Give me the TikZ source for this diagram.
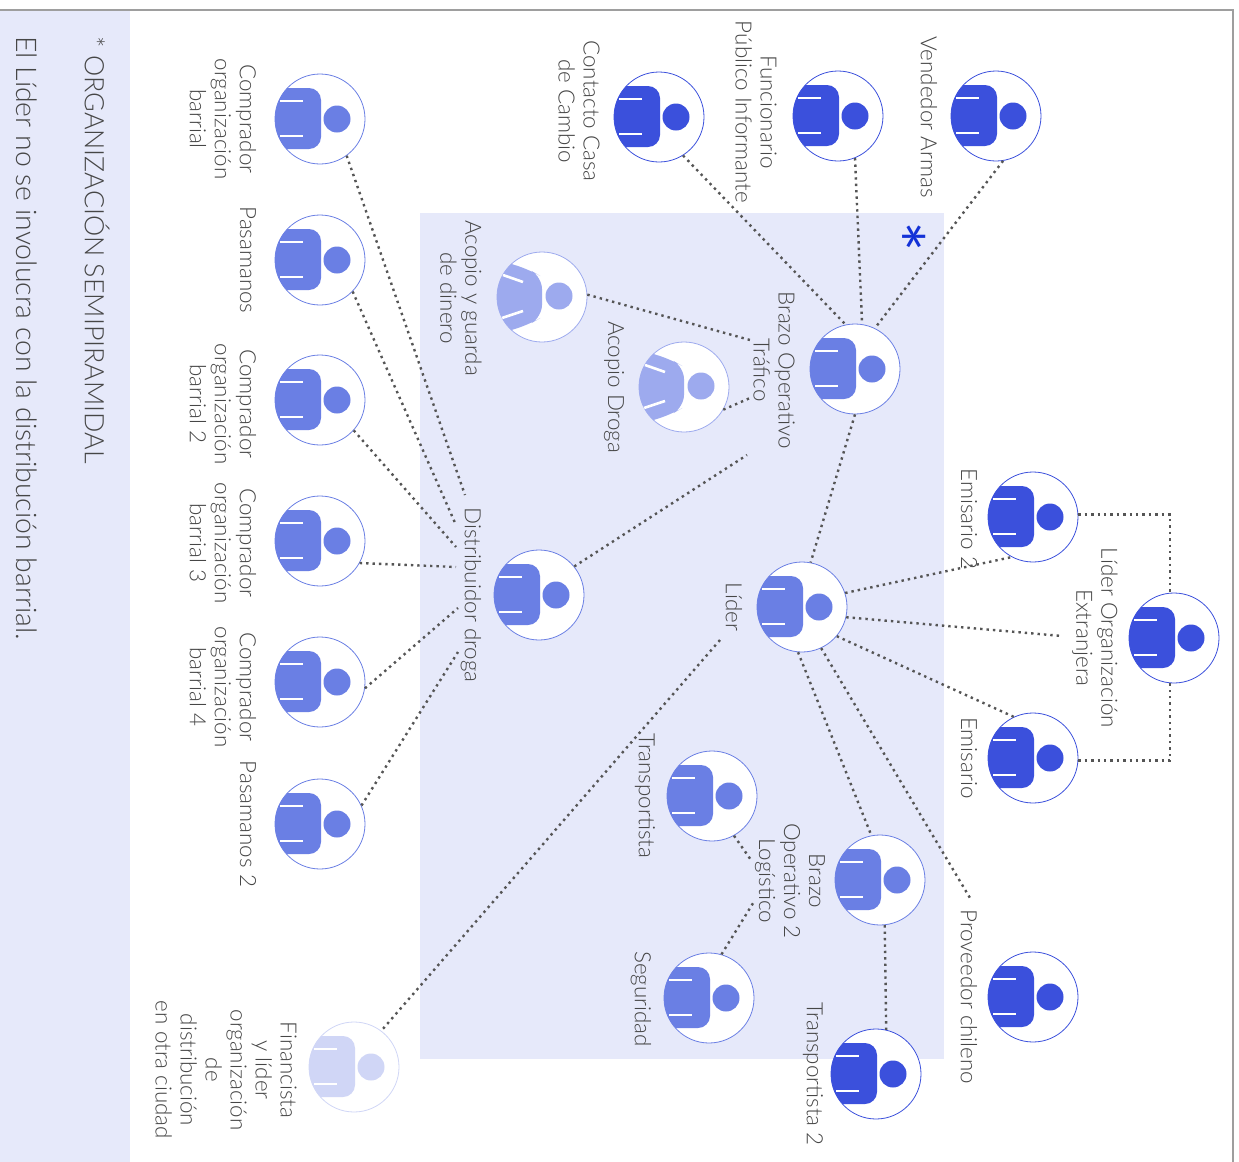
\documentclass[tikz,border=0pt]{standalone}
\usepackage{fontspec}
\setmainfont{Lato}[UprightFont=* Light]
\newfontfamily\markfont{Lato}

\definecolor{PersonDark}{RGB}{59,80,220}
\definecolor{PersonMid}{RGB}{106,127,228}
\definecolor{PersonLight}{RGB}{157,170,238}
\definecolor{PersonPale}{RGB}{208,214,246}
\definecolor{PanelColor}{RGB}{230,233,250}
\definecolor{TextColor}{RGB}{70,70,70}
\definecolor{DotColor}{RGB}{85,85,85}
\definecolor{MarkColor}{RGB}{20,50,215}

\tikzset{
	personcircle/.style={circle, draw, fill=white, line width=0.4pt, minimum size=45pt, inner sep=0pt},
	personlabel/.style={xshift=0.5pt, rotate=-90, align=center, inner sep=0pt, text=TextColor, font=\fontsize{11.2}{12.5}\selectfont},
	notelabel/.style={rotate=-90, anchor=west, inner sep=0pt, text=TextColor},
	dotline/.style={draw=DotColor, line width=1.2pt, dash pattern=on 1.2pt off 2pt}
}

% name, position, colour
\newcommand{\PersonNode}[3]{
	\node [personcircle, draw=#3] (#1) at (#2) {};
	\begin{scope}[shift={(#2)}]
		\clip (0,0) circle (45);
		\fill [#3, rounded corners=6pt] (-70,-31) rectangle (1,30);
		\fill [#3] (17,0) circle (13.5);
		\draw [white, line width=1.3pt] (-40,-18) -- (-17,-18) (-40,17) -- (-17,17);
	\end{scope}
}

% same, with the sloping shoulders
\newcommand{\PersonTilt}[3]{
	\node [personcircle, draw=#3] (#1) at (#2) {};
	\begin{scope}[shift={(#2)}]
		\clip (0,0) circle (45);
		\fill [#3, rounded corners=6pt] (-70,-46) -- (-12,-27) -- (0,-20) -- (0,20) -- (-12,27) -- (-70,46) -- cycle;
		\fill [#3] (17,-1) circle (13.5);
		\draw [white, line width=1.3pt] (-39,-22) -- (-19,-15) (-40,21) -- (-19,14);
	\end{scope}
}

\begin{document}
\begin{tikzpicture}[x=0.5pt, y=-0.5pt]

	\useasboundingbox (0,0) rectangle (1239,1162);

	% Panels

	\fill [PanelColor] (0,10) rectangle (130,1162);
	\fill [PanelColor] (420,213) rectangle (944,1059);
	\draw [color=black!38, line width=1pt] (0,9.5) -- (1233,9.5) -- (1233,1162);

	% People

	\PersonNode{vendedor}{996,116}{PersonDark}
	\PersonNode{funcionario}{838,116}{PersonDark}
	\PersonNode{contacto}{659,117}{PersonDark}
	\PersonNode{brazotrafico}{855,369}{PersonMid}
	\PersonTilt{acopioguarda}{542,297}{PersonLight}
	\PersonTilt{acopiodroga}{684,387}{PersonLight}
	\PersonNode{emisariodos}{1033,517}{PersonDark}
	\PersonNode{liderorg}{1174,638}{PersonDark}
	\PersonNode{emisario}{1033,758}{PersonDark}
	\PersonNode{lider}{802,607}{PersonMid}
	\PersonNode{distribuidor}{539,595}{PersonMid}
	\PersonNode{transportista}{712,796}{PersonMid}
	\PersonNode{brazologistico}{880,880}{PersonMid}
	\PersonNode{seguridad}{709,998}{PersonMid}
	\PersonNode{proveedor}{1033,997}{PersonDark}
	\PersonNode{transportistados}{876,1074}{PersonDark}
	\PersonNode{financista}{354,1067}{PersonPale}
	\PersonNode{compradoruno}{320,119}{PersonMid}
	\PersonNode{pasamanos}{320,260}{PersonMid}
	\PersonNode{compradordos}{320,400}{PersonMid}
	\PersonNode{compradortres}{320,541}{PersonMid}
	\PersonNode{compradorcuatro}{320,682}{PersonMid}
	\PersonNode{pasamanosdos}{320,824}{PersonMid}

	% Labels

	\node [personlabel] (vendedorlabel) at (928,117) {Vendedor Armas};
	\node [personlabel] (funcionariolabel) at (755,112) {Funcionario\\Público Informante};
	\node [personlabel] (contactolabel) at (578,111) {Contacto Casa\\de Cambio};
	\node [personlabel] (brazotraficolabel) at (773,370) {Brazo Operativo\\Tráfico};
	\node [personlabel] (acopioguardalabel) at (460,298) {Acopio y guarda\\de dinero};
	\node [personlabel] (acopiodrogalabel) at (613,387) {Acopio Droga};
	\node [personlabel] (emisariodoslabel) at (968,519) {Emisario 2};
	\node [personlabel] (liderorglabel) at (1094,638) {Líder Organización\\Extranjera};
	\node [personlabel] (emisariolabel) at (968,758) {Emisario};
	\node [personlabel] (liderlabel) at (733,607) {Líder};
	\node [personlabel] (distribuidorlabel) at (470,595) {Distribuidor droga};
	\node [personlabel] (transportistalabel) at (644,796) {Transportista};
	\node [personlabel] (brazologisticolabel) at (789,881) {Brazo\\Operativo 2\\Logístico};
	\node [personlabel] (seguridadlabel) at (640,999) {Seguridad};
	\node [personlabel] (proveedorlabel) at (968,997) {Proveedor chileno};
	\node [personlabel] (transportistadoslabel) at (812,1074) {Transportista 2};
	\node [personlabel] (financistalabel) at (225,1070) {Financista\\y líder\\organización\\de\\distribución\\en otra ciudad};
	\node [personlabel] (compradorunolabel) at (222,119) {Comprador\\organización\\barrial};
	\node [personlabel] (pasamanoslabel) at (247,260) {Pasamanos};
	\node [personlabel] (compradordoslabel) at (222,404) {Comprador\\organización\\barrial 2};
	\node [personlabel] (compradortreslabel) at (222,543) {Comprador\\organización\\barrial 3};
	\node [personlabel] (compradorcuatrolabel) at (222,687) {Comprador\\organización\\barrial 4};
	\node [personlabel] (pasamanosdoslabel) at (247,824) {Pasamanos 2};

	\node [notelabel, font=\fontsize{13.4}{15}\selectfont] (notatitulo) at (97,36) {* ORGANIZACIÓN SEMIPIRAMIDAL};
	\node [notelabel, font=\fontsize{14.2}{16}\selectfont] (notatexto) at (27,36) {El Líder no se involucra con la distribución barrial.};
	\node [rotate=-90, inner sep=0pt, text=MarkColor, font=\markfont\fontsize{36}{36}\selectfont] (asterisco) at (899,237) {*};

	% Free ends, at the edge of a label

	\coordinate (trafA) at (750,340);
	\coordinate (trafB) at (750,398);
	\coordinate (trafC) at (747,455);
	\coordinate (extranjera) at (1062,636);
	\coordinate (chileno) at (970,898);
	\coordinate (liderfin) at (720,640);
	\coordinate (logA) at (751,860);
	\coordinate (logB) at (755,900);
	\coordinate (distA) at (465,495);
	\coordinate (distB) at (456,525);
	\coordinate (distC) at (456,547);
	\coordinate (distD) at (456,567);
	\coordinate (distE) at (458,608);
	\coordinate (distF) at (458,652);

	% Connectors

	\draw [dotline] (vendedor.279) -- (brazotrafico.64);
	\draw [dotline] (funcionario.292) -- (brazotrafico.81);
	\draw [dotline] (contacto.302) -- (brazotrafico.102);
	\draw [dotline] (brazotrafico.270) -- (lider.79);
	\draw [dotline] (acopioguarda.3) -- (trafA);
	\draw [dotline] (acopiodroga.330) -- (trafB);
	\draw [dotline] (distribuidor.39) -- (trafC);
	\draw [dotline] (lider.18) -- (emisariodos.242);
	\draw [dotline] (lider.347) -- (extranjera);
	\draw [dotline] (lider.320) -- (emisario.115);
	\draw [dotline] (lider.265) -- (brazologistico.101);
	\draw [dotline] (lider.295) -- (chileno);
	\draw [dotline] (liderfin) -- (financista.53);
	\draw [dotline] (brazologistico.276) -- (transportistados.77);
	\draw [dotline] (transportista.299) -- (logA);
	\draw [dotline] (seguridad.74) -- (logB);
	\draw [dotline] (emisariodos.3) -| (liderorg.95);
	\draw [dotline] (emisario.357) -| (liderorg.265);
	\draw [dotline] (compradoruno.306) -- (distA);
	\draw [dotline] (pasamanos.316) -- (distB);
	\draw [dotline] (compradordos.318) -- (distC);
	\draw [dotline] (compradortres.331) -- (distD);
	\draw [dotline] (compradorcuatro.352) -- (distE);
	\draw [dotline] (pasamanosdos.24) -- (distF);

\end{tikzpicture}
\end{document}
